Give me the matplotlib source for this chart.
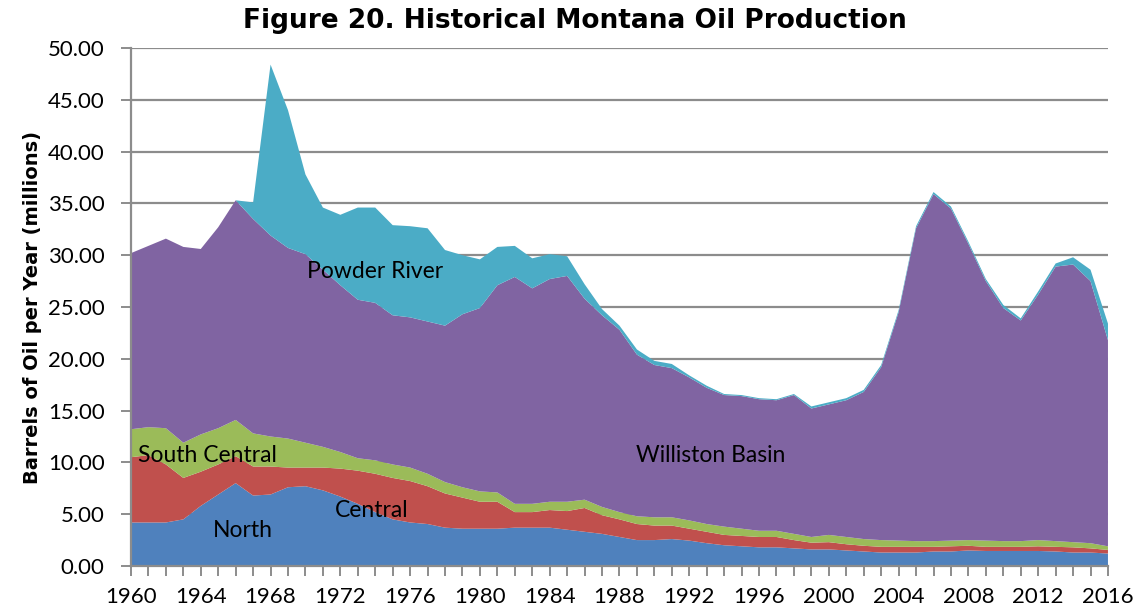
import matplotlib
matplotlib.use("Agg")
import matplotlib.pyplot as plt
import numpy as np

years = list(range(1960, 2017))

north = [4.2, 4.2, 4.2, 4.5, 5.8, 6.9, 8.0, 6.8, 6.9, 7.6,
         7.7, 7.3, 6.7, 6.0, 5.2, 4.5, 4.2, 4.05, 3.7, 3.6,
         3.6, 3.6, 3.7, 3.7, 3.7, 3.5, 3.3, 3.1, 2.8, 2.5,
         2.5, 2.6, 2.45, 2.2, 2.0, 1.9, 1.8, 1.8, 1.7, 1.6,
         1.6, 1.5, 1.4, 1.3, 1.3, 1.3, 1.4, 1.4, 1.5, 1.45,
         1.45, 1.45, 1.45, 1.4, 1.3, 1.3, 1.2]

central = [6.3, 6.5, 5.6, 4.0, 3.3, 2.9, 2.6, 2.8, 2.7, 1.9,
           1.8, 2.2, 2.7, 3.2, 3.7, 4.0, 4.0, 3.65, 3.3, 3.0,
           2.6, 2.6, 1.5, 1.5, 1.7, 1.8, 2.3, 1.8, 1.7, 1.55,
           1.4, 1.3, 1.15, 1.1, 1.0, 1.0, 1.0, 1.0, 0.8, 0.65,
           0.7, 0.6, 0.55, 0.55, 0.55, 0.55, 0.45, 0.5, 0.45, 0.4,
           0.4, 0.4, 0.45, 0.45, 0.5, 0.4, 0.35]

south_central = [2.7, 2.7, 3.5, 3.4, 3.6, 3.5, 3.5, 3.2, 2.9, 2.8,
                 2.4, 2.0, 1.6, 1.2, 1.3, 1.3, 1.3, 1.2, 1.1, 1.0,
                 1.0, 0.9, 0.8, 0.8, 0.8, 0.9, 0.8, 0.8, 0.7, 0.75,
                 0.8, 0.8, 0.8, 0.75, 0.8, 0.7, 0.6, 0.6, 0.6, 0.55,
                 0.7, 0.7, 0.65, 0.65, 0.6, 0.55, 0.55, 0.55, 0.55, 0.6,
                 0.55, 0.55, 0.6, 0.55, 0.5, 0.5, 0.35]

williston = [17.0, 17.5, 18.3, 18.9, 17.9, 19.4, 21.2, 20.7, 19.4, 18.4,
             18.2, 17.1, 16.1, 15.3, 15.2, 14.4, 14.5, 14.7, 15.1, 16.7,
             17.7, 20.0, 21.9, 20.8, 21.5, 21.8, 19.4, 18.5, 17.6, 15.6,
             14.7, 14.4, 13.8, 13.15, 12.7, 12.8, 12.7, 12.6, 13.4, 12.4,
             12.6, 13.2, 14.2, 16.7, 22.05, 30.2, 33.5, 32.05, 28.6, 25.05,
             22.5, 21.3, 23.7, 26.5, 26.8, 25.3, 19.9]

powder_river = [0, 0, 0, 0, 0, 0, 0, 1.6, 16.5, 13.3,
                7.7, 6.0, 6.8, 8.9, 9.2, 8.7, 8.8, 9.0, 7.3, 5.7,
                4.7, 3.7, 3.0, 2.9, 2.4, 1.9, 1.4, 0.6, 0.4, 0.5,
                0.4, 0.4, 0.2, 0.2, 0.1, 0.1, 0.1, 0.1, 0.1, 0.2,
                0.2, 0.2, 0.2, 0.2, 0.2, 0.2, 0.2, 0.2, 0.2, 0.2,
                0.3, 0.2, 0.3, 0.3, 0.7, 1.1, 1.6]

series_names = ["North", "Central", "South Central", "Williston Basin", "Powder River"]
colors = ["#4F81BD", "#C0504D", "#9BBB59", "#8064A2", "#4BACC6"]

y_ticks = [0, 5, 10, 15, 20, 25, 30, 35, 40, 45, 50]
x_major = list(range(1960, 2017, 4))

fig = plt.figure(figsize=(11.4, 6.14), dpi=100)
ax = fig.add_axes([0.1149, 0.0782, 0.857, 0.8436])

ax.stackplot(years, north, central, south_central, williston, powder_river,
             colors=colors, linewidth=0, zorder=2)

ax.set_xlim(1960, 2016)
ax.set_ylim(0, 50)
ax.set_yticks(y_ticks)
ax.set_yticklabels([f"{v:.2f}" for v in y_ticks], family="Lato")
ax.set_xticks(x_major)
ax.set_xticks(years, minor=True)
ax.set_xticklabels([str(y) for y in x_major], family="Lato")

ax.yaxis.grid(True, color="#8c8c8c", linewidth=1.6, zorder=1)
ax.set_axisbelow(True)
for s in ["top", "right"]:
    ax.spines[s].set_visible(False)
for s in ["left", "bottom"]:
    ax.spines[s].set_color("#8c8c8c")
    ax.spines[s].set_linewidth(1.6)
    ax.spines[s].set_zorder(3)

ax.tick_params(axis="y", which="major", length=7, width=1.4, color="#8c8c8c",
               labelsize=16, pad=12)
ax.tick_params(axis="x", which="both", length=7, width=1.4, color="#8c8c8c",
               direction="out", labelsize=16, pad=8)

ax.set_ylabel("Barrels of Oil per Year (millions)", fontsize=14, fontweight="bold",
              family="DejaVu Sans", labelpad=4)
fig.text(0.504, 0.965, "Figure 20. Historical Montana Oil Production",
         ha="center", va="center", fontsize=19, fontweight="bold")

lab_font = dict(fontsize=16.5, family="Lato", ha="center", va="center", zorder=5)
ax.text(1974.0, 28.4, "Powder River", **lab_font)
ax.text(1993.2, 10.7, "Williston Basin", **lab_font)
ax.text(1964.4, 10.7, "South Central", **lab_font)
ax.text(1973.8, 5.4, "Central", **lab_font)
ax.text(1966.4, 3.4, "North", **lab_font)

fig.savefig("out.png", dpi=100)
